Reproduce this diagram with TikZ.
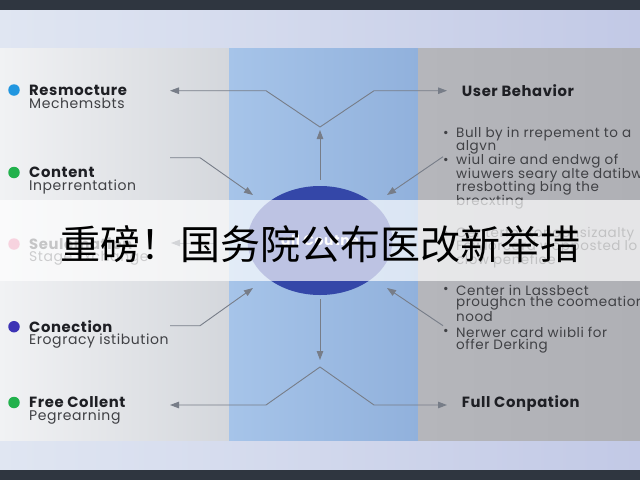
\documentclass[tikz,border=0pt]{standalone}
\usepackage{fontspec}
\setmainfont{Poppins}
\newfontfamily\wide[LetterSpace=4]{Poppins}
\newfontfamily\cjk{Noto Sans CJK SC}
\usetikzlibrary{arrows.meta,shapes.geometric}
\definecolor{darkbar}{HTML}{2F3640}
\definecolor{bandL}{HTML}{E0E6F2}
\definecolor{bandR}{HTML}{C2C9E6}
\definecolor{leftL}{HTML}{F1F2F4}
\definecolor{leftR}{HTML}{D4D7DC}
\definecolor{midL}{HTML}{A6C4E9}
\definecolor{midR}{HTML}{91B1DC}
\definecolor{rightL}{HTML}{B5B6BB}
\definecolor{rightR}{HTML}{AFB0B5}
\definecolor{hubblue}{HTML}{3447A8}
\definecolor{arrowgray}{HTML}{777D88}
\definecolor{txt}{HTML}{1E1F24}
\definecolor{dotblue}{HTML}{2196E0}
\definecolor{dotgreen}{HTML}{22B14C}
\definecolor{dotpink}{HTML}{E8799E}
\definecolor{dotpurple}{HTML}{3D33B5}
\tikzset{
  arr/.style={draw=arrowgray, line width=0.9pt, -{Triangle[length=9pt,width=6.5pt]}},
  ttl/.style={anchor=west, inner sep=0pt, text=txt, font=\wide\fontsize{14.8}{14.8}\selectfont\bfseries},
  sub/.style={anchor=west, inner sep=0pt, text=txt!85, font=\wide\fontsize{14}{14}\selectfont},
  bul/.style={anchor=west, inner sep=0pt, text=txt!85, font=\wide\fontsize{13.5}{13.5}\selectfont},
  dot/.style={circle, inner sep=0pt, minimum size=11.5pt},
}
\begin{document}
\begin{tikzpicture}[x=1pt,y=-1pt]
\clip (0,0) rectangle (640,480);
% background bands
\fill[darkbar] (0,0) rectangle (640,10);
\shade[left color=bandL, right color=bandR] (0,10) rectangle (640,48);
\shade[left color=bandL, right color=bandR] (0,440) rectangle (640,470);
\fill[darkbar] (0,470) rectangle (640,480);
% panels
\shade[left color=leftL, right color=leftR] (0,48) rectangle (229,440);
\shade[left color=midL, right color=midR] (229,48) rectangle (418,440);
\shade[left color=rightL, right color=rightR] (418,48) rectangle (640,440);
% hub
\node[ellipse, fill=hubblue, minimum width=145pt, minimum height=109pt, inner sep=0pt,
      text=white, font=\wide\fontsize{14}{14}\selectfont\bfseries] (hub) at (320,240.5) {all Coutne};
% coordinates
\coordinate (jtt) at (320,130);
\coordinate (jt) at (320,127);
\coordinate (tlk) at (266,90.7);
\coordinate (tle) at (170,90.7);
\coordinate (trk) at (374,90.7);
\coordinate (tre) at (447,90.7);
\coordinate (jbt) at (320,360);
\coordinate (jb) at (320,367);
\coordinate (blk) at (266,405);
\coordinate (ble) at (170,405);
\coordinate (brk) at (374,405);
\coordinate (bre) at (447,405);
\coordinate (l1s) at (170,157.7);
\coordinate (l1k) at (200,157.7);
\coordinate (l1e) at (253,195);
\coordinate (l2s) at (170,325.7);
\coordinate (l2k) at (200,325.7);
\coordinate (l2e) at (253,288);
\coordinate (r1s) at (443,156.7);
\coordinate (r1e) at (387,195);
\coordinate (r2s) at (443,325.7);
\coordinate (r2e) at (387,288);
\coordinate (lms) at (215,243);
\coordinate (lme) at (171,243);
% connectors
\draw[arr, shorten <=6pt] (hub) -- (jtt);
\draw[arr] (jt) -- (tlk) -- (tle);
\draw[arr] (jt) -- (trk) -- (tre);
\draw[arr, shorten <=4pt] (hub) -- (jbt);
\draw[arr] (jb) -- (blk) -- (ble);
\draw[arr] (jb) -- (brk) -- (bre);
\draw[arr] (l1s) -- (l1k) -- (l1e);
\draw[arr] (l2s) -- (l2k) -- (l2e);
\draw[arr] (r1s) -- (r1e);
\draw[arr] (r2s) -- (r2e);
\draw[arr] (lms) -- (lme);
% left labels
\node[dot, fill=dotblue] (d1) at (14,90) {};
\node[ttl] (t1) at (29,90) {Resmocture};
\node[sub] (s1) at (29,103.5) {Mechemsbts};
\node[dot, fill=dotgreen] (d2) at (14,172.5) {};
\node[ttl] (t2) at (29,172.5) {Content};
\node[sub] (s2) at (29,187) {Inperrentation};
\node[dot, fill=dotpink] (d3) at (14,244) {};
\node[ttl, text=txt!80] (t3) at (29,244) {Seulemation};
\node[sub, text=txt!70] (s3) at (29,258.5) {Stage Exchange};
\node[dot, fill=dotpurple] (d4) at (14,326.7) {};
\node[ttl] (t4) at (29,326.7) {Conection};
\node[sub] (s4) at (29,340.7) {Erogracy istibution};
\node[dot, fill=dotgreen] (d5) at (14,402.5) {};
\node[ttl] (t5) at (29,402.5) {Free Collent};
\node[sub] (s5) at (29,416.7) {Pegrearning};
% right labels
\node[ttl] (u1) at (461.7,90.7) {User Behavior};
\node[ttl] (u2) at (461.7,403.5) {Full Conpation};
\node[bul] (b1) at (443,134) {•};
\node[bul] (b1a) at (456,134) {Bull by in rrepement to a};
\node[bul] (b1b) at (456,147.5) {algvn};
\node[bul] (b2) at (443,161.5) {•};
\node[bul] (b2a) at (456,161.5) {wiul aire and endwg of ~};
\node[bul] (b2b) at (456,175) {wiuwers seary alte datibw};
\node[bul] (b2c) at (456,188.5) {rresbotting bing the};
\node[bul] (b2d) at (456,202) {brecxting};
\node[bul] (b3) at (443,234) {•};
\node[bul] (b3a) at (456,234) {Centerfor tonoonsizaalty};
\node[bul] (b3b) at (456,247.5) {Fowlorcard wopposted lo};
\node[bul] (b3c) at (456,261) {clow penefice};
\node[bul] (b4) at (443,290) {•};
\node[bul] (b4a) at (456,290) {Center in Lassbect};
\node[bul] (b4b) at (456,303.5) {proughcn the coomeatior};
\node[bul] (b4c) at (456,317) {nood};
\node[bul] (b5) at (443,332.5) {•};
\node[bul] (b5a) at (456,332.5) {Nerwer card wiıbli for};
\node[bul] (b5b) at (456,346) {offer Derking};
% banner overlay
\node[fill=white, fill opacity=0.68, minimum width=640pt, minimum height=81pt, inner sep=0pt, anchor=north west] (banner) at (0,200) {};
\node[inner sep=0pt, text=black, font=\cjk\fontsize{40}{40}\selectfont] (headline) at (320,244) {重磅！国务院公布医改新举措};
\end{tikzpicture}
\end{document}
